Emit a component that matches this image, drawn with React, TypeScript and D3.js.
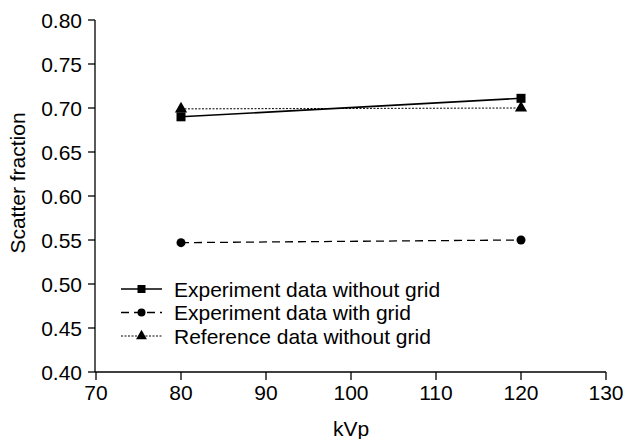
import React from 'react';
import * as d3 from 'd3';

const kvp = [80, 120];
const withoutGrid = [0.69, 0.711];
const withGrid = [0.547, 0.55];
const referenceNoGrid = [0.699, 0.7];
const seriesNames = ['Experiment data without grid', 'Experiment data with grid', 'Reference data without grid'];
const xTicks = [70, 80, 90, 100, 110, 120, 130];
const yTicks = [0.4, 0.45, 0.5, 0.55, 0.6, 0.65, 0.7, 0.75, 0.8];

const W = 624;
const H = 439;
const margin = { top: 20, right: 18, bottom: 67, left: 96 };
const font = 'Arial, "Liberation Sans", sans-serif';
const fs = 21;

export default function App() {
  const x = d3.scaleLinear().domain([70, 130]).range([margin.left, W - margin.right]);
  const y = d3.scaleLinear().domain([0.4, 0.8]).range([H - margin.bottom, margin.top]);

  const lineGen = d3.line<[number, number]>()
    .x(d => x(d[0]))
    .y(d => y(d[1]));

  const series = [
    { name: seriesNames[0], values: withoutGrid, dash: undefined, width: 1.6, marker: 'square' },
    { name: seriesNames[1], values: withGrid, dash: '8,5', width: 1.3, marker: 'circle' },
    { name: seriesNames[2], values: referenceNoGrid, dash: '2,1.5', width: 1, marker: 'triangle' },
  ];

  const marker = (kind: string, cx: number, cy: number, s: number, key?: string) => {
    if (kind === 'square') return <rect key={key} x={cx - s} y={cy - s} width={2 * s} height={2 * s} fill="#000" />;
    if (kind === 'circle') return <circle key={key} cx={cx} cy={cy} r={s} fill="#000" />;
    const t = d3.symbol().type(d3.symbolTriangle).size(s * s * 3.2)();
    return <path key={key} d={t || ''} transform={`translate(${cx},${cy})`} fill="#000" />;
  };

  const x0 = y.range()[0];

  return (
    <svg width={W} height={H} style={{ position: 'absolute', left: 0, top: 0, background: '#fff' }}>
      {/* axes */}
      <line x1={margin.left - 1} x2={margin.left - 1} y1={y(0.8)} y2={x0} stroke="#000" strokeWidth={1.3} />
      <line x1={x(70) - 1} x2={x(130)} y1={x0} y2={x0} stroke="#000" strokeWidth={1.3} />
      {yTicks.map(t => (
        <g key={'y' + t}>
          <line x1={margin.left - 8} x2={margin.left - 1} y1={y(t)} y2={y(t)} stroke="#000" strokeWidth={1.3} />
          <text x={margin.left - 14} y={y(t)} dy="0.36em" textAnchor="end" fontFamily={font} fontSize={fs}>
            {d3.format('.2f')(t)}
          </text>
        </g>
      ))}
      {xTicks.map(t => (
        <g key={'x' + t}>
          <line x1={x(t)} x2={x(t)} y1={x0} y2={x0 + 8} stroke="#000" strokeWidth={1.3} />
          <text x={x(t)} y={x0 + 28} textAnchor="middle" fontFamily={font} fontSize={fs}>{t}</text>
        </g>
      ))}
      <text x={x(100)} y={H - 3} textAnchor="middle" fontFamily={font} fontSize={fs}>kVp</text>
      <text transform={`translate(25,183) rotate(-90)`} textAnchor="middle" fontFamily={font} fontSize={fs}>
        Scatter fraction
      </text>

      {/* data */}
      {series.map(s => {
        const pts = kvp.map((k, i) => [k, s.values[i]] as [number, number]);
        return (
          <g key={s.name}>
            <path d={lineGen(pts) || ''} fill="none" stroke="#000" strokeWidth={s.width} strokeDasharray={s.dash} />
            {pts.map((p, i) => marker(s.marker, x(p[0]), y(p[1]), 4.5, s.name + i))}
          </g>
        );
      })}

      {/* legend */}
      {series.map((s, i) => {
        const ly = 289 + i * 23.5;
        return (
          <g key={'leg' + i}>
            <line x1={121} x2={162} y1={ly} y2={ly} stroke="#000" strokeWidth={s.width} strokeDasharray={s.dash} />
            {marker(s.marker, 141.5, ly, 4)}
            <text x={174} y={ly} dy="0.36em" fontFamily={font} fontSize={fs}>{s.name}</text>
          </g>
        );
      })}
    </svg>
  );
}
